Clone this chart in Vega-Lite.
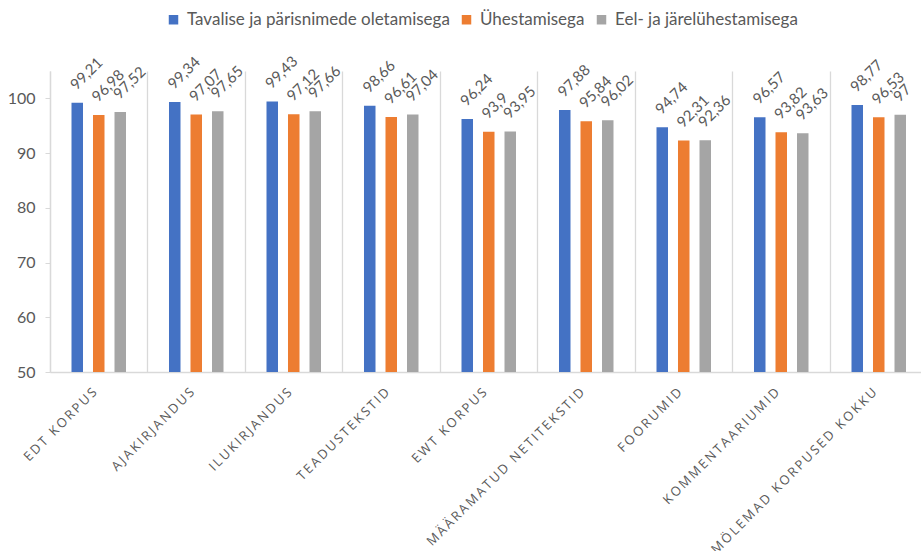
{
  "$schema": "https://vega.github.io/schema/vega-lite/v6.json",
  "autosize": {"type": "none"},
  "padding": {"left": 50, "top": 71, "right": 0, "bottom": 179},
  "width": 871,
  "height": 301,
  "config": {
    "view": {"stroke": null},
    "font": "Lato",
    "locale": {
      "number": {"decimal": ",", "thousands": " ", "grouping": [3], "currency": ["", " €"]}
    }
  },
  "data": {
    "values": [
      {"korpus": "EDT KORPUS", "meetod": "Tavalise ja pärisnimede oletamisega", "tapsus": 99.21},
      {"korpus": "EDT KORPUS", "meetod": "Ühestamisega", "tapsus": 96.98},
      {"korpus": "EDT KORPUS", "meetod": "Eel- ja järelühestamisega", "tapsus": 97.52},
      {"korpus": "AJAKIRJANDUS", "meetod": "Tavalise ja pärisnimede oletamisega", "tapsus": 99.34},
      {"korpus": "AJAKIRJANDUS", "meetod": "Ühestamisega", "tapsus": 97.07},
      {"korpus": "AJAKIRJANDUS", "meetod": "Eel- ja järelühestamisega", "tapsus": 97.65},
      {"korpus": "ILUKIRJANDUS", "meetod": "Tavalise ja pärisnimede oletamisega", "tapsus": 99.43},
      {"korpus": "ILUKIRJANDUS", "meetod": "Ühestamisega", "tapsus": 97.12},
      {"korpus": "ILUKIRJANDUS", "meetod": "Eel- ja järelühestamisega", "tapsus": 97.66},
      {"korpus": "TEADUSTEKSTID", "meetod": "Tavalise ja pärisnimede oletamisega", "tapsus": 98.66},
      {"korpus": "TEADUSTEKSTID", "meetod": "Ühestamisega", "tapsus": 96.61},
      {"korpus": "TEADUSTEKSTID", "meetod": "Eel- ja järelühestamisega", "tapsus": 97.04},
      {"korpus": "EWT KORPUS", "meetod": "Tavalise ja pärisnimede oletamisega", "tapsus": 96.24},
      {"korpus": "EWT KORPUS", "meetod": "Ühestamisega", "tapsus": 93.9},
      {"korpus": "EWT KORPUS", "meetod": "Eel- ja järelühestamisega", "tapsus": 93.95},
      {"korpus": "MÄÄRAMATUD NETITEKSTID", "meetod": "Tavalise ja pärisnimede oletamisega", "tapsus": 97.88},
      {"korpus": "MÄÄRAMATUD NETITEKSTID", "meetod": "Ühestamisega", "tapsus": 95.84},
      {"korpus": "MÄÄRAMATUD NETITEKSTID", "meetod": "Eel- ja järelühestamisega", "tapsus": 96.02},
      {"korpus": "FOORUMID", "meetod": "Tavalise ja pärisnimede oletamisega", "tapsus": 94.74},
      {"korpus": "FOORUMID", "meetod": "Ühestamisega", "tapsus": 92.31},
      {"korpus": "FOORUMID", "meetod": "Eel- ja järelühestamisega", "tapsus": 92.36},
      {"korpus": "KOMMENTAARIUMID", "meetod": "Tavalise ja pärisnimede oletamisega", "tapsus": 96.57},
      {"korpus": "KOMMENTAARIUMID", "meetod": "Ühestamisega", "tapsus": 93.82},
      {"korpus": "KOMMENTAARIUMID", "meetod": "Eel- ja järelühestamisega", "tapsus": 93.63},
      {"korpus": "MÖLEMAD KORPUSED KOKKU", "meetod": "Tavalise ja pärisnimede oletamisega", "tapsus": 98.77},
      {"korpus": "MÖLEMAD KORPUSED KOKKU", "meetod": "Ühestamisega", "tapsus": 96.53},
      {"korpus": "MÖLEMAD KORPUSED KOKKU", "meetod": "Eel- ja järelühestamisega", "tapsus": 97}
    ]
  },
  "encoding": {
    "x": {
      "field": "korpus",
      "type": "nominal",
      "sort": null,
      "title": null,
      "scale": {"paddingInner": 0, "paddingOuter": 0, "range": [0, 877.5]},
      "axis": {
        "bandPosition": 0,
        "grid": true,
        "gridColor": "#D9D9D9",
        "gridWidth": 1.3,
        "domainColor": "#D9D9D9",
        "domainWidth": 1.5,
        "ticks": false,
        "labelAngle": -45,
        "labelAlign": "right",
        "labelBaseline": "middle",
        "labelPadding": 18,
        "labelOffset": -4,
        "labelExpr": "join(split(datum.label, ''), '\u2009')",
        "labelFont": "Open Sans",
        "labelFontSize": 13,
        "labelColor": "#595959",
        "labelLimit": 300
      }
    },
    "xOffset": {
      "field": "meetod",
      "type": "nominal",
      "sort": ["Tavalise ja pärisnimede oletamisega", "Ühestamisega", "Eel- ja järelühestamisega"],
      "scale": {"paddingInner": 0.465, "paddingOuter": 1.17}
    },
    "y": {
      "field": "tapsus",
      "type": "quantitative",
      "title": null,
      "scale": {"domain": [50, 105], "nice": false, "zero": false},
      "axis": {
        "values": [50, 60, 70, 80, 90, 100],
        "grid": false,
        "domainColor": "#D9D9D9",
        "domainWidth": 1.3,
        "tickColor": "#D9D9D9",
        "tickSize": 5,
        "labelPadding": 10,
        "labelFontSize": 16,
        "labelColor": "#595959"
      }
    }
  },
  "layer": [
    {
      "mark": {"type": "bar", "clip": true},
      "encoding": {
        "y2": {"datum": 50},
        "color": {
          "field": "meetod",
          "type": "nominal",
          "sort": ["Tavalise ja pärisnimede oletamisega", "Ühestamisega", "Eel- ja järelühestamisega"],
          "scale": {"range": ["#4472C4", "#ED7D31", "#A5A5A5"]},
          "legend": {
            "title": null,
            "orient": "none",
            "direction": "horizontal",
            "legendX": 115,
            "legendY": -60,
            "symbolType": "square",
            "symbolSize": 90,
            "symbolStrokeWidth": 0,
            "labelFontSize": 17,
            "labelColor": "#595959",
            "labelLimit": 400,
            "columnPadding": 8,
            "labelOffset": 5
          }
        }
      }
    },
    {
      "mark": {
        "type": "text",
        "angle": 315,
        "align": "left",
        "baseline": "middle",
        "dx": 8,
        "dy": -14,
        "fontSize": 15,
        "color": "#595959"
      },
      "encoding": {
        "text": {"field": "tapsus", "type": "quantitative", "format": ".4~r"}
      }
    }
  ]
}
